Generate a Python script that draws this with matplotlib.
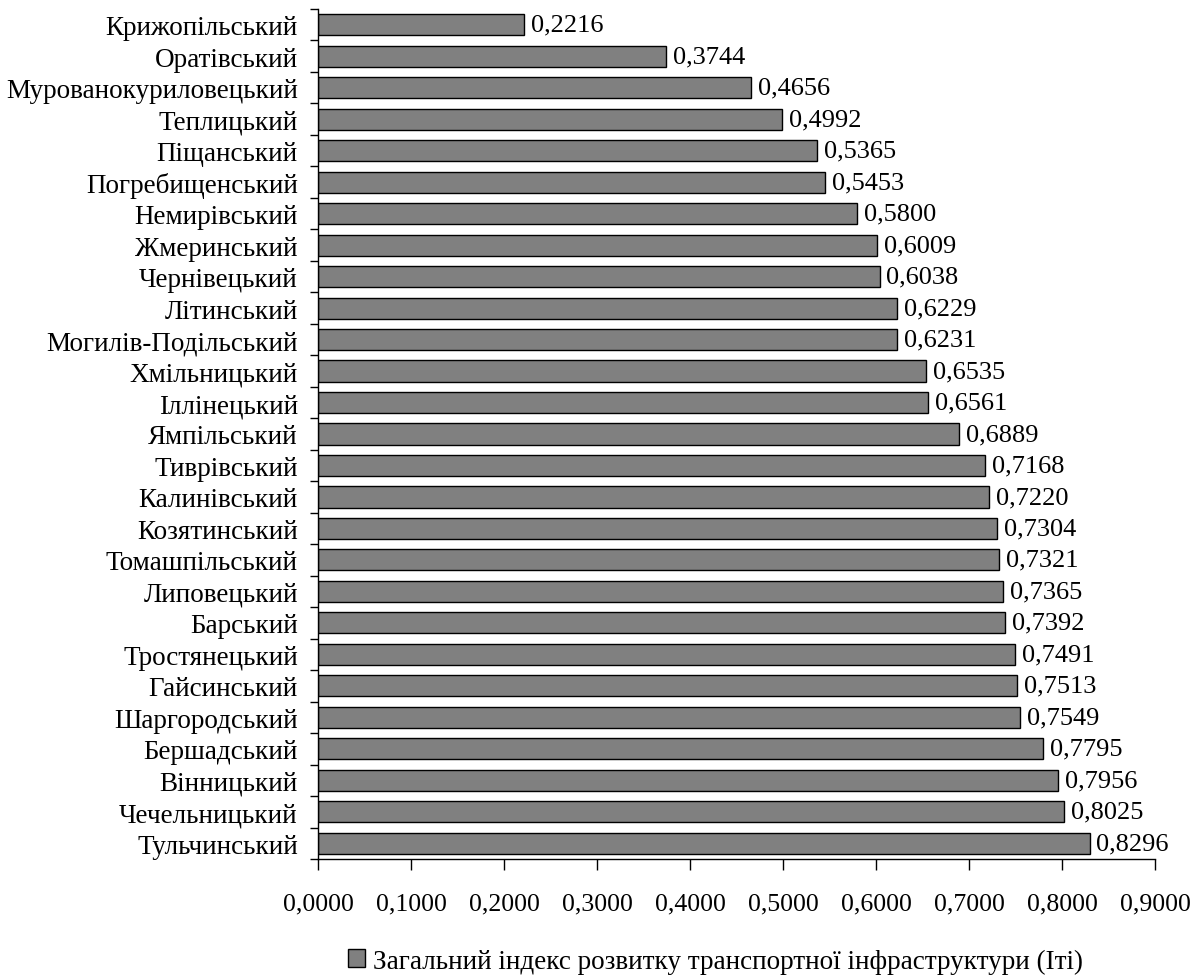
import numpy as np
import matplotlib.pyplot as plt
from matplotlib.ticker import FixedLocator, FuncFormatter

# districts, top to bottom
districts = [
    "Крижопільський", "Оратівський", "Мурованокуриловецький", "Теплицький",
    "Піщанський", "Погребищенський", "Немирівський", "Жмеринський",
    "Чернівецький", "Літинський", "Могилів-Подільський", "Хмільницький",
    "Іллінецький", "Ямпільський", "Тиврівський", "Калинівський",
    "Козятинський", "Томашпільський", "Липовецький", "Барський",
    "Тростянецький", "Гайсинський", "Шаргородський", "Бершадський",
    "Вінницький", "Чечельницький", "Тульчинський",
]
iti = [
    0.2216, 0.3744, 0.4656, 0.4992, 0.5365, 0.5453, 0.5800, 0.6009,
    0.6038, 0.6229, 0.6231, 0.6535, 0.6561, 0.6889, 0.7168, 0.7220,
    0.7304, 0.7321, 0.7365, 0.7392, 0.7491, 0.7513, 0.7549, 0.7795,
    0.7956, 0.8025, 0.8296,
]
x_ticks = [0.0, 0.1, 0.2, 0.3, 0.4, 0.5, 0.6, 0.7, 0.8, 0.9]
legend_label = "Загальний індекс розвитку транспортної інфраструктури (Іті)"


def comma(v):
    return f"{v:.4f}".replace(".", ",")


plt.rcParams["font.family"] = ["Liberation Serif", "DejaVu Serif"]

fig = plt.figure(figsize=(12.02, 9.79), dpi=100)
ax = fig.add_axes([318 / 1202, 1 - 860 / 979, (1155 - 318) / 1202, (860 - 10) / 979])

y = np.arange(len(districts))
bars = ax.barh(y, iti, height=0.67, color="#808080", edgecolor="black",
               linewidth=1.0, label=legend_label)

for yi, v in zip(y, iti):
    ax.annotate(comma(v), (v, yi), xytext=(5, 0), textcoords="offset points",
                va="center", ha="left", fontsize=19)

ax.set_ylim(len(districts) - 0.5, -0.5)
ax.set_xlim(0, 0.9)

ax.set_yticks(y)
ax.set_yticklabels(districts, fontsize=19.5)
ax.tick_params(axis="y", which="major", length=0, pad=14.5)
ax.yaxis.set_minor_locator(FixedLocator(np.arange(-0.5, len(districts), 1)))
ax.tick_params(axis="y", which="minor", length=6, width=1)

ax.set_xticks(x_ticks)
ax.xaxis.set_major_formatter(FuncFormatter(lambda v, p: comma(v)))
ax.tick_params(axis="x", length=8, width=1, labelsize=18.5, pad=16)

ax.spines["top"].set_visible(False)
ax.spines["right"].set_visible(False)
for s in ("left", "bottom"):
    ax.spines[s].set_linewidth(1.0)

fig.legend(handles=[bars], labels=[legend_label], loc="center left",
           bbox_to_anchor=(348 / 1202, 1 - 962 / 979), frameon=False,
           borderpad=0, borderaxespad=0, fontsize=19.5,
           handlelength=0.63, handleheight=0.63, handletextpad=0.3)

fig.savefig("out.png", dpi=100)
